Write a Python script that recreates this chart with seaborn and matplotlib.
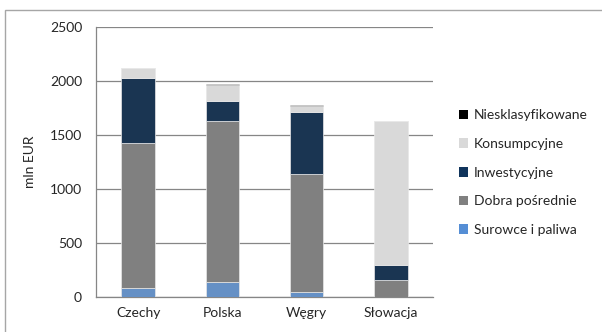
import numpy as np
import pandas as pd
import matplotlib
matplotlib.use("Agg")
import matplotlib.pyplot as plt
import seaborn as sns
from matplotlib.patches import Rectangle, Patch

# — Dane —
kraje = ["Czechy", "Polska", "Węgry", "Słowacja"]
surowce = [80, 136, 43, 3]
dobra = [1349, 1494, 1096, 154]
inwestycyjne = [602, 185, 571, 139]
konsumpcyjne = [86, 148, 59, 1334]
niesklasyfikowane = [8, 9, 9, 2]

kategorie = ["Surowce i paliwa", "Dobra pośrednie", "Inwestycyjne",
             "Konsumpcyjne", "Niesklasyfikowane"]
kolory = ["#558ED5", "#808080", "#10345C", "#D9D9D9", "#000000"]

df = pd.DataFrame({
    "kraj": kraje,
    "Surowce i paliwa": surowce,
    "Dobra pośrednie": dobra,
    "Inwestycyjne": inwestycyjne,
    "Konsumpcyjne": konsumpcyjne,
    "Niesklasyfikowane": niesklasyfikowane,
})

sns.set_style("white")
plt.rcParams["font.family"] = ["Lato", "DejaVu Sans"]

fig = plt.figure(figsize=(6.02, 3.32), dpi=100)
ax = fig.add_axes([96/602, 1-297/332, (433-96)/602, (297-27)/332])

# ramka wykresu
fig.patches.append(Rectangle((5/602, -0.2), 1.2, 1-10/332+0.2, transform=fig.transFigure,
                             fill=False, edgecolor="#A6A6A6", linewidth=1.0))

# — Słupki skumulowane —
dolne = np.zeros(len(kraje))
for kat, kol in zip(kategorie, kolory):
    sns.barplot(x=df["kraj"], y=df[kat], bottom=dolne, color=kol, width=0.4,
                edgecolor="#E8E8E8", linewidth=0.5, ax=ax, zorder=3)
    dolne = dolne + df[kat].to_numpy()

ax.set_ylim(0, 2500)
ax.set_yticks(range(0, 2501, 500))
ax.set_xlim(-0.5, 3.5)
ax.yaxis.grid(True, color="#868686", linewidth=0.9)
ax.set_axisbelow(True)
for s in ["top", "right"]:
    ax.spines[s].set_visible(False)
ax.spines["left"].set_color("#868686")
ax.spines["bottom"].set_color("#868686")
ax.spines["left"].set_linewidth(0.9)
ax.spines["bottom"].set_linewidth(0.9)

ax.set_xticks([0, 1, 2, 3])
ax.set_xticklabels(kraje)
ax.set_xticks([0.5, 1.5, 2.5, 3.5], minor=True)
ax.tick_params(axis="x", which="major", length=0, pad=7, labelsize=10, labelcolor="#262626")
ax.tick_params(axis="x", which="minor", length=4, color="#868686", direction="out")
ax.tick_params(axis="y", length=4, color="#868686", labelsize=10, labelcolor="#262626", pad=6)
ax.set_xlabel("")
ax.set_ylabel("mln EUR", fontsize=10, color="#262626", labelpad=10)

uchwyty = [Patch(facecolor=k, edgecolor="none") for k in kolory][::-1]
ax.legend(uchwyty, kategorie[::-1], loc="center left", bbox_to_anchor=(1.06, 0.46),
          frameon=False, fontsize=10, handlelength=0.7, handleheight=0.7,
          handletextpad=0.4, labelspacing=1.2, borderaxespad=0)

fig.savefig("out.png", dpi=100)
